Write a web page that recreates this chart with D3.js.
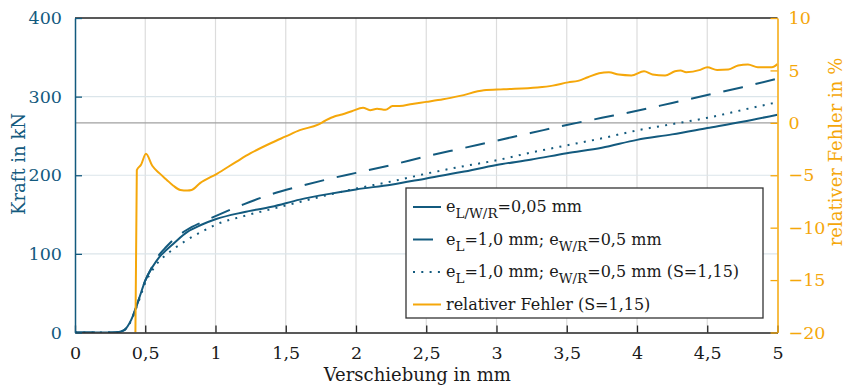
<!DOCTYPE html>
<html>
<head>
<meta charset="utf-8">
<script src="https://cdn.jsdelivr.net/npm/d3@7"></script>
<style>
  body { margin: 0; background: #fff; }
  svg text { font-family: "DejaVu Serif", serif; }
</style>
</head>
<body>
<div id="chart"></div>
<script>
// Verschiebung (mm) for the three force curves
const forceX = [0, 0.1, 0.2, 0.3, 0.35, 0.4, 0.45, 0.5, 0.55, 0.6, 0.65, 0.7, 0.8, 0.9, 1.0,
    1.2, 1.4, 1.6, 1.8, 2.0, 2.25, 2.5, 2.75, 3.0, 3.25, 3.5, 3.75, 4.0, 4.25, 4.5, 4.75, 5.0];
// Kraft (kN)
const kraftFein = [0, 0, 0, 0.3, 3, 16, 40, 66, 83, 96, 105, 113, 128, 137, 144,
    153, 160, 169, 176, 182, 188, 196, 204, 213, 220, 228, 235, 245, 252, 260, 268, 277];
const kraftGrob = [0, 0, 0, 0.3, 3, 16, 40, 66, 84, 99, 109, 118, 131, 140, 148,
    163, 176, 186, 195, 203, 213, 224, 234, 244, 254, 264, 273, 282, 292, 302, 312, 323];
const kraftGrobS = [0, 0, 0, 0.3, 3, 15, 38, 63, 79, 91, 99, 106, 118, 128, 137,
    148, 157, 166, 175, 183, 192, 202, 211, 219, 229, 238, 247, 257, 265, 273, 283, 293];

// relativer Fehler (%)
const fehlerX = [0.43, 0.44, 0.47, 0.505, 0.55, 0.6, 0.65, 0.7, 0.75, 0.8, 0.83, 0.89, 1.01, 1.15,
    1.25, 1.4, 1.5, 1.6, 1.73, 1.78, 1.85, 1.9, 1.97, 2.05, 2.1, 2.15, 2.21, 2.26, 2.31, 2.4, 2.5,
    2.62, 2.74, 2.91, 3.05, 3.29, 3.4, 3.51, 3.58, 3.65, 3.73, 3.8, 3.87, 3.96, 4.05, 4.11, 4.2,
    4.27, 4.31, 4.35, 4.45, 4.5, 4.57, 4.65, 4.72, 4.79, 4.86, 4.96, 5.0];
const fehler = [-20, -4.5, -4.0, -2.95, -4.1, -4.8, -5.4, -6.0, -6.4, -6.45, -6.4, -5.75, -4.86, -3.7,
    -2.9, -1.9, -1.3, -0.7, -0.17, 0.2, 0.63, 0.8, 1.11, 1.44, 1.21, 1.34, 1.24, 1.6, 1.6, 1.8, 2.0,
    2.25, 2.57, 3.1, 3.2, 3.37, 3.55, 3.86, 4.0, 4.35, 4.73, 4.83, 4.6, 4.52, 4.92, 4.62, 4.52,
    4.92, 4.99, 4.83, 5.05, 5.3, 5.05, 5.09, 5.47, 5.57, 5.3, 5.3, 5.6];

const xTicks = [0, 0.5, 1, 1.5, 2, 2.5, 3, 3.5, 4, 4.5, 5];
const yTicks = [0, 100, 200, 300, 400];
const y2Ticks = [-20, -15, -10, -5, 0, 5, 10];

const blue = "#135a7e", orange = "#f5a70a";
const fmt = d => String(d).replace(".", ",");

let margin = {top: 18, right: 70.5, bottom: 52.5, left: 75},
    width = 848 - margin.left - margin.right,
    height = 385 - margin.top - margin.bottom;

let x = d3.scaleLinear().domain([0, 5]).range([0, width]);
let y = d3.scaleLinear().domain([0, 400]).range([height, 0]);
let y2 = d3.scaleLinear().domain([-20, 10]).range([height, 0]);

let svg = d3.select("#chart").append("svg")
    .attr("width", 848)
    .attr("height", 385)
    .append("g")
    .attr("transform", "translate(" + margin.left + "," + margin.top + ")");

svg.append("defs").append("clipPath").attr("id", "clip")
    .append("rect").attr("width", width).attr("height", height);

// Gridlines
svg.selectAll(".vgrid").data(xTicks.slice(1, -1)).enter().append("line")
    .attr("x1", d => x(d)).attr("x2", d => x(d))
    .attr("y1", 0).attr("y2", height)
    .attr("stroke", "#dcdcdc").attr("stroke-width", 1.2);
svg.selectAll(".hgrid").data(yTicks.slice(1, -1)).enter().append("line")
    .attr("x1", 0).attr("x2", width)
    .attr("y1", d => y(d)).attr("y2", d => y(d))
    .attr("stroke", "#dbe5ea").attr("stroke-width", 1.2);
// Zero line of the error axis
svg.append("line")
    .attr("x1", 0).attr("x2", width)
    .attr("y1", y2(0)).attr("y2", y2(0))
    .attr("stroke", "#a0a0a0").attr("stroke-width", 1.2);

let plot = svg.append("g").attr("clip-path", "url(#clip)");

let lineF = d3.line().x((d, i) => x(forceX[i])).y(d => y(d)).curve(d3.curveMonotoneX);

plot.append("path").datum(kraftGrobS).attr("d", lineF)
    .attr("fill", "none").attr("stroke", blue).attr("stroke-width", 2)
    .attr("stroke-dasharray", "2,6.3");
plot.append("path").datum(kraftGrob).attr("d", lineF)
    .attr("fill", "none").attr("stroke", blue).attr("stroke-width", 2)
    .attr("stroke-dasharray", "20,13");
plot.append("path").datum(kraftFein).attr("d", lineF)
    .attr("fill", "none").attr("stroke", blue).attr("stroke-width", 2);

let lineE = d3.line().x((d, i) => x(fehlerX[i])).y(d => y2(d)).curve(d3.curveMonotoneX);
plot.append("path").datum(fehler).attr("d", lineE)
    .attr("fill", "none").attr("stroke", orange).attr("stroke-width", 2);

// Top border
svg.append("line").attr("x1", 0).attr("x2", width).attr("y1", 0).attr("y2", 0)
    .attr("stroke", "#222").attr("stroke-width", 1.3);

// Axes
let xAxis = svg.append("g")
    .attr("transform", "translate(0," + height + ")")
    .call(d3.axisBottom(x).tickValues(xTicks).tickFormat(fmt).tickSizeInner(-7).tickSizeOuter(0).tickPadding(14));
xAxis.select(".domain").attr("stroke", "#222").attr("stroke-width", 1.5);
xAxis.selectAll(".tick line").attr("stroke", "#222").attr("stroke-width", 1.3);
xAxis.selectAll("text").attr("fill", "#1a1a1a").style("font-size", "17.5px")
    .style("font-family", "DejaVu Serif");

let yAxis = svg.append("g")
    .call(d3.axisLeft(y).tickValues(yTicks).tickSizeInner(-7).tickSizeOuter(0).tickPadding(13));
yAxis.select(".domain").attr("stroke", blue).attr("stroke-width", 1.5);
yAxis.selectAll(".tick line").attr("stroke", blue).attr("stroke-width", 1.3);
yAxis.selectAll("text").attr("fill", blue).style("font-size", "17.5px")
    .style("font-family", "DejaVu Serif");

let y2Axis = svg.append("g")
    .attr("transform", "translate(" + width + ",0)")
    .call(d3.axisRight(y2).tickValues(y2Ticks).tickSizeInner(-7).tickSizeOuter(0).tickPadding(11));
y2Axis.select(".domain").attr("stroke", orange).attr("stroke-width", 1.5);
y2Axis.selectAll(".tick line").attr("stroke", orange).attr("stroke-width", 1.3);
y2Axis.selectAll("text").attr("fill", orange).style("font-size", "17.5px")
    .style("font-family", "DejaVu Serif");

// Axis titles
svg.append("text")
    .attr("x", width / 2 - 9).attr("y", height + 48)
    .attr("text-anchor", "middle").attr("fill", "#1a1a1a")
    .style("font-size", "18px").text("Verschiebung in mm");
svg.append("text")
    .attr("transform", "translate(-50," + (164 - margin.top) + ") rotate(-90)")
    .attr("text-anchor", "middle").attr("fill", blue)
    .style("font-size", "18px").text("Kraft in kN");
svg.append("text")
    .attr("transform", "translate(" + (width + 64) + "," + (152 - margin.top) + ") rotate(-90)")
    .attr("text-anchor", "middle").attr("fill", orange)
    .style("font-size", "18px").text("relativer Fehler in %");

// Legend
let legend = svg.append("g").attr("transform", "translate(" + (406 - margin.left) + "," + (188 - margin.top) + ")");
legend.append("rect")
    .attr("width", 357).attr("height", 130)
    .attr("fill", "#fff").attr("stroke", "#333").attr("stroke-width", 1.3);

let items = [
    {dash: null, color: blue, parts: [["e"], ["L/W/R", 1], ["=0,05 mm"]]},
    {dash: "20,13", color: blue, parts: [["e"], ["L", 1], ["=1,0 mm; e"], ["W/R", 1], ["=0,5 mm"]]},
    {dash: "2,6.3", color: blue, parts: [["e"], ["L", 1], ["=1,0 mm; e"], ["W/R", 1], ["=0,5 mm (S=1,15)"]]},
    {dash: null, color: orange, parts: [["relativer Fehler (S=1,15)"]]}
];
items.forEach(function(it, i) {
    let cy = 19 + i * 32.5;
    legend.append("line")
        .attr("x1", 7).attr("x2", 35).attr("y1", cy).attr("y2", cy)
        .attr("stroke", it.color).attr("stroke-width", 2)
        .attr("stroke-dasharray", it.dash);
    let t = legend.append("text").attr("x", 40).attr("y", cy + 5)
        .attr("fill", "#1a1a1a").style("font-size", "16px");
    let sub = false;
    it.parts.forEach(function(p) {
        let dy = 0;
        if (p[1] && !sub) { dy = 6; sub = true; }
        else if (!p[1] && sub) { dy = -6; sub = false; }
        t.append("tspan").attr("dy", dy)
            .style("font-size", p[1] ? "13.5px" : "16px")
            .text(p[0]);
    });
});
</script>
</body>
</html>
